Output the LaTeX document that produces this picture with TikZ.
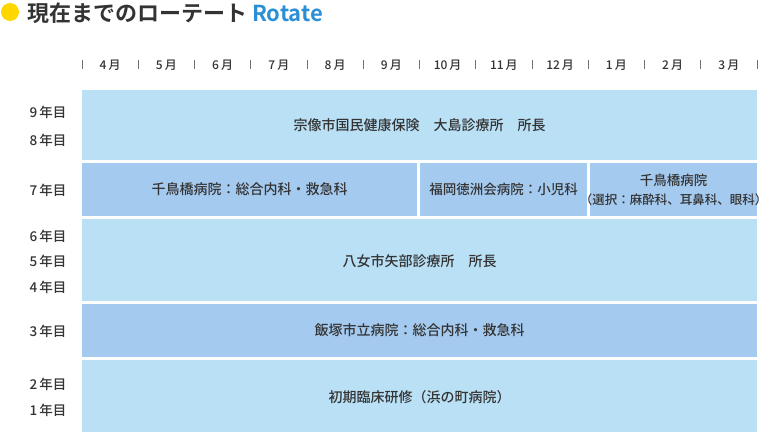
\documentclass[tikz,border=0pt]{standalone}
\usepackage{fontspec}
\setmainfont{Noto Sans CJK JP Medium}
\newfontfamily\jpbold{Noto Sans CJK JP Bold}
\definecolor{lb}{HTML}{B9E0F5}
\definecolor{db}{HTML}{A5CAEF}
\definecolor{tx}{HTML}{333333}
\definecolor{rb}{HTML}{2B8FD6}
\definecolor{yl}{HTML}{FFD700}
\begin{document}
\begin{tikzpicture}[x=1pt,y=-1pt,
  band/.style={fill=#1,draw=none},
  lbl/.style={text=tx,font=\fontsize{14}{18}\selectfont,align=center},
  yr/.style={text=tx,font=\fontsize{13.5}{16}\selectfont},
  mo/.style={text=tx,font=\fontsize{12}{14}\selectfont},
  tk/.style={draw=tx!70,line width=0.7pt}]
\useasboundingbox (0,0) rectangle (761,436);
\fill[yl] (10,12) circle (9);
\node[anchor=west,inner sep=0,text=tx,font=\jpbold\fontsize{22}{24}\selectfont] (title) at (27,13) {現在までのローテート \textcolor{rb}{Rotate}};
\foreach \i in {0,...,12}{\draw[tk] (82+56.25*\i,60) -- (82+56.25*\i,69);}
\foreach \m [count=\i from 0] in {4,5,6,7,8,9,10,11,12,1,2,3}{
  \node[mo] (m\i) at (110.1+56.25*\i,65) {\m\,月};}
\fill[band=lb] (82,90) rectangle (757,160);
\node[lbl] (r1) at (419.5,125) {宗像市国民健康保険\quad 大島診療所\quad 所長};
\fill[band=db] (82,163) rectangle (417,216);
\node[lbl] (r2a) at (249.5,189.5) {千鳥橋病院：総合内科・救急科};
\fill[band=db] (420,163) rectangle (587,216);
\node[lbl,font=\fontsize{13.5}{16}\selectfont] (r2b) at (503.5,189.5) {福岡徳洲会病院：小児科};
\fill[band=db] (590,163) rectangle (757,216);
\node[lbl,font=\fontsize{13.5}{19}\selectfont] (r2c) at (673.5,189.5) {千鳥橋病院\\\fontsize{12.5}{15}\selectfont（選択：麻酔科、耳鼻科、眼科）};
\fill[band=lb] (82,219) rectangle (757,301);
\node[lbl] (r3) at (419.5,261) {八女市矢部診療所\quad 所長};
\fill[band=db] (82,304) rectangle (757,357);
\node[lbl] (r4) at (419.5,330.5) {飯塚市立病院：総合内科・救急科};
\fill[band=lb] (82,360) rectangle (757,432);
\node[lbl] (r5) at (419.5,397) {初期臨床研修（浜の町病院）};
\foreach \t/\y in {9/112,8/140,7/190,6/236,5/261,4/287,3/331,2/384,1/410}{
  \node[yr] (y\t) at (48,\y) {\t\,年目};}
\end{tikzpicture}
\end{document}
